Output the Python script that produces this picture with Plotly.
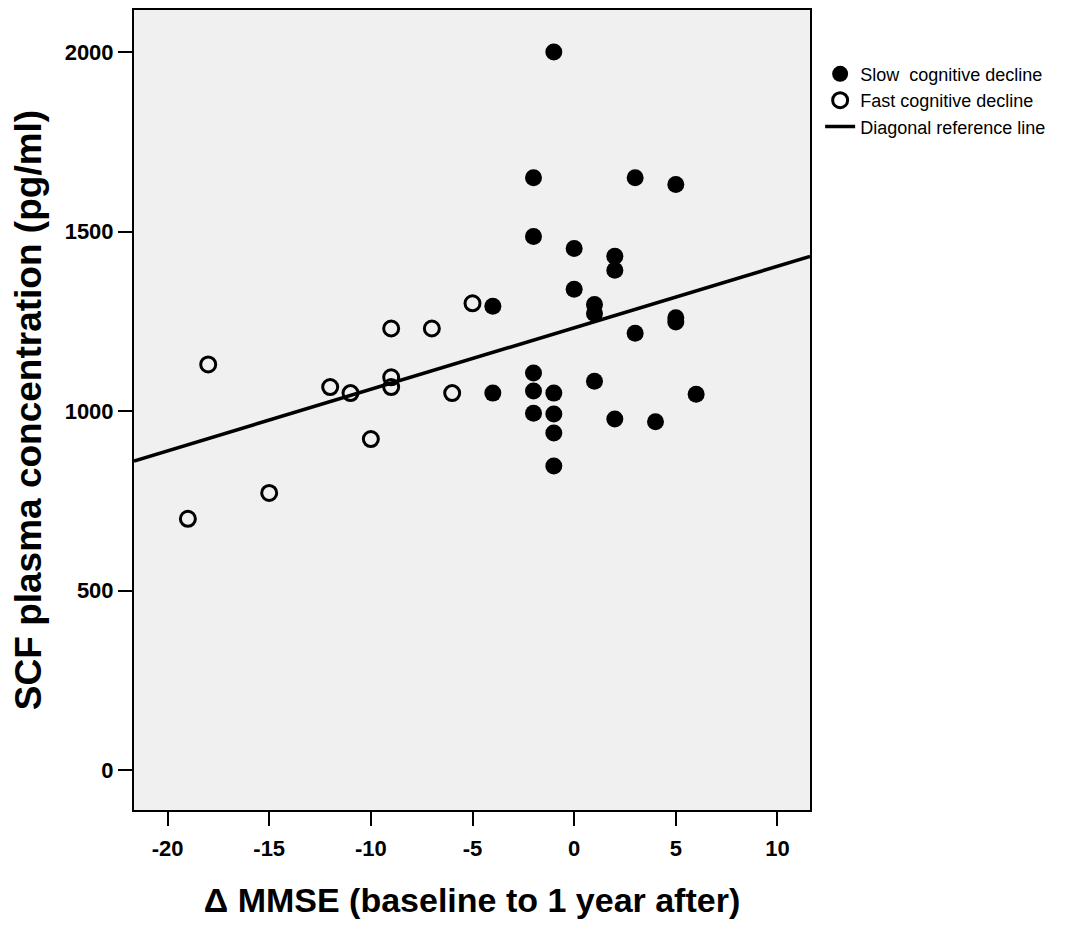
import plotly.graph_objects as go
import numpy as np

# Slow cognitive decline (filled)
slow_x = [-1, -2, 3, 5, -2, 0, 2, 2, 0, 1, 1, -4, 5, 5, 3, -2, 1, -4, -2, -1, 6, -2, -1, 2, 4, -1, -1]
slow_y = [2000, 1650, 1650, 1631, 1486, 1453, 1431, 1392, 1339, 1297, 1272, 1292, 1260, 1248, 1217,
          1106, 1083, 1050, 1056, 1050, 1047, 994, 992, 978, 970, 939, 847]

# Fast cognitive decline (open)
fast_x = [-19, -18, -15, -12, -11, -10, -9, -9, -9, -7, -6, -5]
fast_y = [700, 1130, 772, 1067, 1050, 922, 1230, 1094, 1067, 1230, 1050, 1300]

# Reference line
line_intercept = 1232
line_slope = 17.14

x_range = [-21.65, 11.6]
y_range = [-111, 2117]
x_ticks = [-20, -15, -10, -5, 0, 5, 10]
x_tick_labels = ["-20", "-15", "-10", "-5", "0", "5", "10"]
y_ticks = [0, 500, 1000, 1500, 2000]
y_tick_labels = ["0", "500", "1000", "1500", "2000"]

lx = np.array(x_range)
ly = line_intercept + line_slope * lx

fig = go.Figure()
fig.add_trace(go.Scatter(x=slow_x, y=slow_y, mode="markers", name="Slow  cognitive decline",
                         marker=dict(size=17, color="black", line=dict(width=0))))
fig.add_trace(go.Scatter(x=fast_x, y=fast_y, mode="markers", name="Fast cognitive decline",
                         marker=dict(size=15, color="rgba(0,0,0,0)", line=dict(width=3, color="black"))))
fig.add_trace(go.Scatter(x=lx, y=ly, mode="lines", name="Diagonal reference line",
                         line=dict(color="black", width=3.5)))

tick_font = dict(family="Liberation Sans, Arial", size=22, color="black", weight="bold")
fig.update_layout(
    width=1051, height=914,
    margin=dict(l=126, r=249, t=0, b=112),
    paper_bgcolor="white", plot_bgcolor="#f0f0f0",
    showlegend=True,
    legend=dict(x=1.015, y=0.943, xanchor="left", yanchor="top",
                font=dict(family="Liberation Sans, Arial", size=18, color="black"),
                bgcolor="rgba(0,0,0,0)", tracegroupgap=0, itemwidth=30),
    font=dict(family="Liberation Sans, Arial", color="black"),
)
fig.update_xaxes(range=x_range, tickvals=x_ticks, ticktext=x_tick_labels,
                 ticks="outside", ticklen=14, tickwidth=2, tickcolor="black", tickfont=tick_font,
                 ticklabelstandoff=4,
                 showgrid=False, zeroline=False, showline=True, linecolor="black", linewidth=2, mirror=True,
                 title=dict(text="Δ MMSE (baseline to 1 year after)",
                            font=dict(family="Liberation Sans, Arial", size=34, color="black", weight="bold"),
                            standoff=28))
fig.update_yaxes(range=y_range, tickvals=y_ticks, ticktext=y_tick_labels,
                 ticks="outside", ticklen=14, tickwidth=2, tickcolor="black", tickfont=tick_font,
                 showgrid=False, zeroline=False, showline=True, linecolor="black", linewidth=2, mirror=True,
                 title=dict(text="SCF plasma concentration (pg/ml)",
                            font=dict(family="Liberation Sans, Arial", size=37, color="black", weight="bold"),
                            standoff=14))

fig.write_html("out.html")
